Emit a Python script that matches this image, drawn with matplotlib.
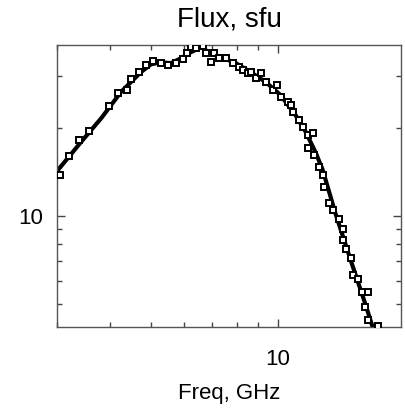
import numpy as np
import matplotlib
matplotlib.use('Agg')
import matplotlib.pyplot as plt
from matplotlib.ticker import LogLocator, NullFormatter, FixedLocator, FixedFormatter

# measured spectrum (GHz, sfu)
freq = [3.05, 3.21, 3.38, 3.57, 3.99, 4.19, 4.4, 4.49, 4.69, 4.87, 5.06, 5.29, 5.49, 5.74, 5.96,
        6.09, 6.23, 6.4, 6.65, 6.76, 6.94, 7.06, 7.25, 7.53, 7.83, 8.09, 8.27, 8.49, 8.63, 8.87,
        9.12, 9.37, 9.73, 9.95, 10.16, 10.56, 10.73, 10.85, 11.21, 11.46, 11.77, 11.77, 12.1,
        12.16, 12.5, 12.78, 12.85, 13.2, 13.49, 13.94, 14.25, 14.32, 14.48, 14.88, 15.12, 15.46,
        15.88, 16.41, 16.14, 16.41, 17.33]
flux = [13.8, 16.0, 18.2, 19.5, 23.7, 26.3, 26.9, 29.3, 31.0, 32.8, 33.8, 33.3, 32.8, 33.3, 34.3,
        36.0, 37.7, 37.4, 38.0, 36.0, 33.5, 36.0, 34.6, 34.6, 33.3, 32.3, 31.5, 30.8, 31.0, 29.6,
        30.8, 28.7, 26.9, 28.0, 25.5, 24.5, 23.9, 22.6, 21.3, 20.1, 17.1, 18.9, 19.2,
        16.2, 14.7, 13.8, 12.6, 11.1, 10.5, 9.8, 9.0, 8.3, 7.7, 7.2, 6.3, 6.1,
        5.5, 5.5, 4.9, 4.4, 4.2]

# fit curve
fit_freq = [3.02, 3.42, 3.82, 4.25, 4.74, 5.01, 5.29, 5.59, 5.9, 6.23, 6.58, 6.94, 7.33, 7.96,
            8.63, 9.37, 10.16, 11.03, 11.65, 12.3, 12.78, 13.71, 14.88, 16.14, 16.77]
fit_flux = [14.4, 17.9, 21.6, 26.5, 31.0, 33.0, 33.5, 33.3, 34.6, 36.3, 37.7, 36.0, 34.9, 33.3,
            31.0, 28.7, 25.9, 22.1, 19.4, 16.5, 14.4, 10.2, 7.1, 5.0, 4.2]

plt.rcParams['font.family'] = ['Liberation Sans', 'DejaVu Sans']

fig = plt.figure(figsize=(4.06, 4.08), dpi=100)
ax = fig.add_axes([57/406, 81/408, 344/406, 282/408])

ax.plot(fit_freq, fit_flux, color='black', lw=3.0, zorder=2)
ax.plot(freq, flux, 's', ms=4.2, mfc='white', mec='black', mew=1.4, zorder=3)

ax.set_xscale('log')
ax.set_yscale('log')
ax.set_xlim(3.0, 19.6)
ax.set_ylim(4.18, 38.4)

for a in (ax.xaxis, ax.yaxis):
    a.set_major_locator(FixedLocator([10]))
    a.set_major_formatter(FixedFormatter(['10']))
    a.set_minor_locator(LogLocator(base=10, subs=np.arange(2, 10)))
    a.set_minor_formatter(NullFormatter())

ax.tick_params(which='both', direction='in', top=True, right=True, color='#444444', labelsize=16)
ax.tick_params(which='major', length=6, width=1)
ax.tick_params(which='minor', length=3.5, width=1)
ax.tick_params(axis='y', pad=10)
ax.tick_params(axis='x', pad=16)

for s in ax.spines.values():
    s.set_color('#555555')
    s.set_linewidth(1)

ax.set_title('Flux, sfu', fontsize=20, pad=13)
ax.set_xlabel('Freq, GHz', fontsize=16, labelpad=9)

fig.savefig('out.png', dpi=100)
